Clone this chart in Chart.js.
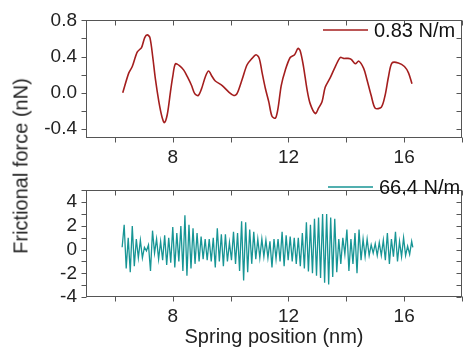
<!DOCTYPE html>
<html>
<head>
<meta charset="utf-8">
<script src="https://cdn.jsdelivr.net/npm/chart.js@4.4.1/dist/chart.umd.min.js"></script>
<style>
  body { margin: 0; background: #fff; }
  #wrap { position: relative; width: 465px; height: 350px; }
  canvas { position: absolute; left: 0; }
  #ytitle {
    position: absolute; left: 21px; top: 166px;
    transform: translate(-50%, -50%) rotate(-90deg);
    font: 20px "Liberation Sans", Arial, sans-serif;
    color: #222; white-space: nowrap;
  }
</style>
</head>
<body>
<div id="wrap">
  <canvas id="topChart" width="465" height="170" style="top:0"></canvas>
  <canvas id="botChart" width="465" height="180" style="top:170px"></canvas>
  <div id="ytitle">Frictional force (nN)</div>
</div>
<script>
// --- data ---
const xTickValues = [8, 12, 16];
const softTickValues = [-0.4, 0.0, 0.4, 0.8];
const stiffTickValues = [-4, -2, 0, 2, 4];

// 0.83 N/m spring
const softX = [6.27, 6.48, 6.60, 6.77, 6.92, 7.03, 7.12, 7.21, 7.31, 7.40,
  7.52, 7.63, 7.71, 7.81, 7.92, 8.00, 8.09, 8.23, 8.38, 8.50,
  8.65, 8.76, 8.88, 8.99, 9.13, 9.24, 9.36, 9.47, 9.71, 9.93,
  10.11, 10.22, 10.40, 10.57, 10.74, 10.88, 10.99, 11.09, 11.20, 11.32,
  11.43, 11.55, 11.64, 11.75, 11.89, 12.06, 12.21, 12.33, 12.41, 12.52,
  12.64, 12.75, 12.93, 13.04, 13.16, 13.27, 13.45, 13.62, 13.79, 13.91,
  14.06, 14.17, 14.31, 14.43, 14.60, 14.71, 14.86, 15.00, 15.21, 15.34,
  15.46, 15.58, 15.80, 16.01, 16.15, 16.27];
const softF = [0.00, 0.22, 0.29, 0.45, 0.50, 0.61, 0.64, 0.61, 0.39, 0.15,
  -0.10, -0.27, -0.33, -0.24, 0.01, 0.18, 0.32, 0.30, 0.25, 0.18,
  0.08, -0.01, -0.03, 0.04, 0.18, 0.24, 0.18, 0.13, 0.08, 0.01,
  -0.03, -0.01, 0.15, 0.31, 0.38, 0.42, 0.38, 0.22, 0.05, -0.10,
  -0.26, -0.28, -0.17, 0.08, 0.25, 0.39, 0.42, 0.49, 0.46, 0.29,
  0.04, -0.12, -0.23, -0.17, -0.10, 0.06, 0.17, 0.29, 0.39, 0.38,
  0.38, 0.37, 0.32, 0.35, 0.27, 0.15, -0.03, -0.17, -0.16, -0.03,
  0.18, 0.33, 0.33, 0.29, 0.22, 0.10];

// 66.4 N/m spring
const stiffX = [6.25, 6.32, 6.39, 6.46, 6.53, 6.60, 6.67, 6.74, 6.81, 6.88,
  6.95, 7.02, 7.09, 7.16, 7.23, 7.30, 7.37, 7.44, 7.51, 7.58,
  7.65, 7.72, 7.79, 7.86, 7.93, 8.00, 8.07, 8.14, 8.21, 8.28,
  8.35, 8.42, 8.49, 8.56, 8.63, 8.70, 8.77, 8.84, 8.91, 8.98,
  9.05, 9.12, 9.19, 9.26, 9.33, 9.40, 9.47, 9.54, 9.61, 9.68,
  9.75, 9.82, 9.89, 9.96, 10.03, 10.10, 10.17, 10.24, 10.31, 10.38,
  10.45, 10.52, 10.59, 10.66, 10.73, 10.80, 10.87, 10.94, 11.01, 11.08,
  11.15, 11.22, 11.29, 11.36, 11.43, 11.50, 11.57, 11.64, 11.71, 11.78,
  11.85, 11.92, 11.99, 12.06, 12.13, 12.20, 12.27, 12.34, 12.41, 12.48,
  12.55, 12.62, 12.69, 12.76, 12.83, 12.90, 12.97, 13.04, 13.11, 13.18,
  13.25, 13.32, 13.39, 13.46, 13.53, 13.60, 13.67, 13.74, 13.81, 13.88,
  13.95, 14.02, 14.09, 14.16, 14.23, 14.30, 14.37, 14.44, 14.51, 14.58,
  14.65, 14.72, 14.79, 14.86, 14.93, 15.00, 15.07, 15.14, 15.21, 15.28,
  15.35, 15.42, 15.49, 15.56, 15.63, 15.70, 15.77, 15.84, 15.91, 15.98,
  16.05, 16.12, 16.19, 16.26, 16.30];
const stiffF = [0.2, 2.1, -1.6, 1.0, -1.9, 2.0, -1.4, 0.9, -0.7, 0.8,
  -0.7, 0.2, -0.1, 0.4, -1.8, 1.6, -0.3, 0.9, -0.8, 0.7,
  -0.9, 1.2, -1.3, 1.0, -1.1, 1.9, -1.5, 1.4, -1.0, 2.0,
  -1.8, 2.9, -2.2, 2.1, -1.6, 1.8, -1.2, 1.4, -1.0, 1.1,
  -0.8, 0.9, -0.9, 0.9, -1.0, 1.0, -1.5, 1.8, -1.0, 1.3,
  -1.4, 1.3, -1.0, 0.6, -0.9, 1.5, -1.2, 1.4, -1.8, 2.4,
  -2.6, 2.3, -1.9, 1.7, -1.2, 1.5, -0.8, 0.9, -0.7, 0.9,
  -0.6, 0.8, -0.7, 0.7, -1.5, 0.9, -0.8, 0.9, -1.0, 1.5,
  -1.4, 1.2, -0.9, 1.1, -1.0, 1.0, -1.2, 1.0, -1.4, 1.4,
  -1.6, 2.3, -1.85, 2.1, -2.0, 2.6, -2.2, 2.7, -2.4, 3.0,
  -2.8, 3.0, -2.95, 2.7, -2.3, 2.6, -1.9, 0.9, -1.2, 1.0,
  -0.4, 1.7, -1.8, 0.9, -1.2, 1.4, -2.0, 1.7, -0.9, 0.9,
  -0.6, 0.9, -0.5, 0.4, -0.3, 0.5, -0.5, 0.6, -0.5, 0.8,
  -0.9, 1.4, -1.2, 0.9, -0.6, 1.5, -1.0, 0.7, -0.6, 1.0,
  -0.5, 0.3, -0.4, 0.7, 0.2];

Chart.defaults.font.family = '"Liberation Sans", Arial, sans-serif';
Chart.defaults.color = '#222';

// box frame, tick marks and the in-plot legend
const frame = {
  id: 'frame',
  afterDraw(chart, args, opts) {
    const { ctx, chartArea: a, scales: { x, y } } = chart;
    const L = Math.round(a.left) + 0.5, R = Math.round(a.right) - 0.5;
    const T = Math.round(a.top) + 0.5, B = Math.round(a.bottom) - 0.5;
    ctx.save();
    ctx.strokeStyle = '#555';
    ctx.lineWidth = 1;
    ctx.strokeRect(L, T, R - L, B - T);
    ctx.beginPath();
    for (let v = Math.ceil(x.min / opts.xStep) * opts.xStep; v <= x.max + 1e-9; v += opts.xStep) {
      const px = Math.round(x.getPixelForValue(v)) + 0.5;
      ctx.moveTo(px, B); ctx.lineTo(px, B + 5);
      ctx.moveTo(px, T); ctx.lineTo(px, T + 5);
    }
    for (let v = Math.ceil(y.min / opts.yStep - 1e-9) * opts.yStep; v <= y.max + 1e-9; v += opts.yStep) {
      const py = Math.round(y.getPixelForValue(v)) + 0.5;
      ctx.moveTo(L, py); ctx.lineTo(L - 5, py);
      ctx.moveTo(R, py); ctx.lineTo(R - 5, py);
    }
    ctx.stroke();

    const ds = chart.data.datasets[0];
    ctx.strokeStyle = ds.borderColor;
    ctx.lineWidth = 1.5;
    ctx.beginPath();
    ctx.moveTo(opts.legendX, opts.legendY);
    ctx.lineTo(opts.legendX + 45, opts.legendY);
    ctx.stroke();
    ctx.fillStyle = '#111';
    ctx.font = '20px "Liberation Sans", Arial, sans-serif';
    ctx.textBaseline = 'middle';
    ctx.fillText(ds.label, opts.legendX + 51, opts.legendY + 1);
    ctx.restore();
  }
};

function makeChart(id, xs, ys, label, color, lw, yMin, yMax, yTicks, yFmt, frameOpts, withTitle, pad, xHeight) {
  return new Chart(document.getElementById(id), {
    type: 'line',
    data: {
      datasets: [{
        label: label,
        data: xs.map((v, i) => ({ x: v, y: ys[i] })),
        borderColor: color,
        borderWidth: lw,
        pointRadius: 0,
        tension: withTitle ? 0 : 0.3,
        fill: false
      }]
    },
    options: {
      responsive: false,
      animation: false,
      layout: { padding: pad },
      plugins: { legend: { display: false }, tooltip: { enabled: false }, frame: frameOpts },
      scales: {
        x: {
          type: 'linear', min: 5, max: 18,
          grid: { display: false, drawTicks: false },
          border: { display: false },
          afterBuildTicks: s => { s.ticks = xTickValues.map(v => ({ value: v })); },
          afterFit: s => { s.height = xHeight; },
          ticks: { font: { size: 19 }, padding: 8, maxRotation: 0 },
          title: { display: withTitle, text: 'Spring position (nm)', font: { size: 20 }, padding: { top: 0, bottom: 1 } }
        },
        y: {
          min: yMin, max: yMax,
          grid: { display: false, drawTicks: false },
          border: { display: false },
          afterBuildTicks: s => { s.ticks = yTicks.map(v => ({ value: v })); },
          afterFit: s => { s.width = 86; },
          ticks: { font: { size: 19 }, padding: 9, callback: yFmt }
        }
      }
    },
    plugins: [frame]
  });
}

makeChart('topChart', softX, softF, '0.83 N/m', '#a41e1e', 1.6, -0.5, 0.8, softTickValues,
  v => v.toFixed(1), { xStep: 2, yStep: 0.2, legendX: 323, legendY: 30 }, false,
  { top: 15, right: 3, left: 0, bottom: 0 }, 32);

makeChart('botChart', stiffX, stiffF, '66.4 N/m', '#179595', 1.3, -4, 5, stiffTickValues,
  v => String(v), { xStep: 2, yStep: 1, legendX: 328, legendY: 17 }, true,
  { top: 4, right: 3, left: 0, bottom: 0 }, 53);
</script>
</body>
</html>
